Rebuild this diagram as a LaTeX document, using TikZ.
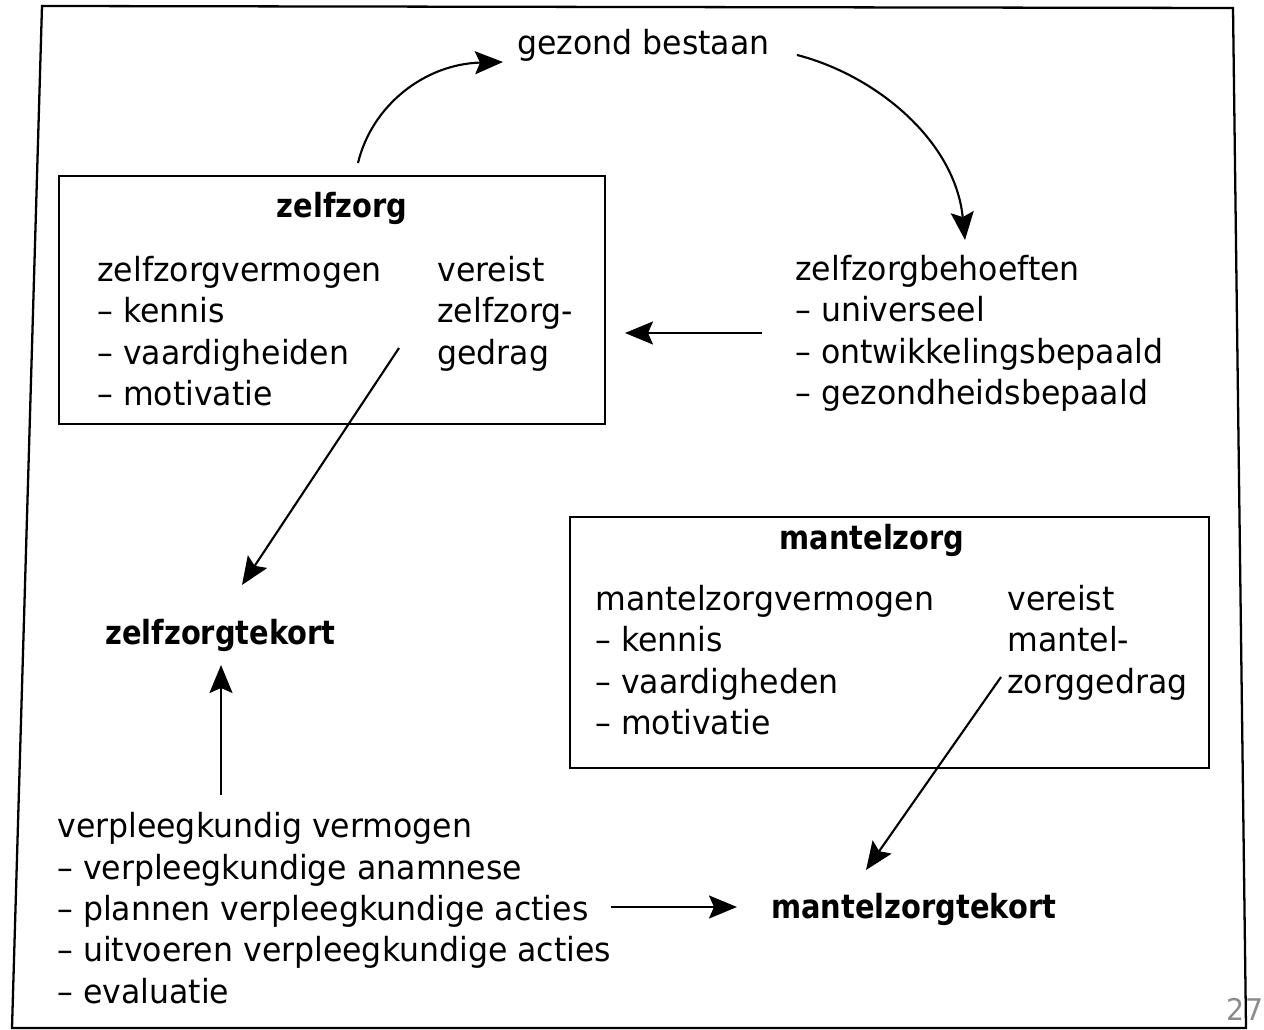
\documentclass[tikz,border=0pt]{standalone}
\usepackage{fontspec}
\setmainfont{DejaVu Sans}[FakeStretch=0.95]
\newfontfamily\bldfont{DejaVu Sans Bold}[FakeStretch=0.87]
\usetikzlibrary{arrows.meta}
\tikzset{
  txt/.style={inner sep=0pt, anchor=base west, align=left, font=\fontsize{18.9}{23.6}\selectfont},
  bld/.style={inner sep=0pt, font=\fontsize{18.9}{23.6}\selectfont\bldfont},
  boxed/.style={draw, line width=1.3pt, inner sep=0pt},
  arr/.style={line width=1.2pt, -{Stealth[length=0.56cm,width=0.46cm,inset=0.1cm]}},
}
\begin{document}
\begin{tikzpicture}[x=0.02cm,y=-0.02cm]
\useasboundingbox (0,0) rectangle (1264,1030);
\fill[white] (0,0) rectangle (1264,1030);
% outer frame
\draw[line width=1.3pt] (42,6) -- (1233,8) -- (1246,1028) -- (12,1028) -- cycle;
% boxes
\node[boxed, minimum width=10.92cm, minimum height=4.96cm] (zbox) at (332,300) {};
\node[boxed, minimum width=12.78cm, minimum height=5.02cm] (mbox) at (889.5,642.5) {};
% texts (base anchor = baseline of the last line)
\node[txt] (gezond) at (517,55) {gezond bestaan};
\node[bld, anchor=base] (zztitle) at (342,218) {zelfzorg};
\node[txt] (zzverm) at (97,405.8) {zelfzorgvermogen\\– kennis\\– vaardigheiden\\– motivatie};
\node[txt] (zzver) at (437,364.2) {vereist\\zelfzorg-\\gedrag};
\node[txt] (zzbeh) at (795,404.8) {zelfzorgbehoeften\\– universeel\\– ontwikkelingsbepaald\\– gezondheidsbepaald};
\node[bld, anchor=base west] (zztekort) at (105,644) {zelfzorgtekort};
\node[bld, anchor=base] (mztitle) at (872,549) {mantelzorg};
\node[txt] (mzverm) at (595,734.8) {mantelzorgvermogen\\– kennis\\– vaardigheden\\– motivatie};
\node[txt] (mzver) at (1007,693.2) {vereist\\mantel-\\zorggedrag};
\node[bld, anchor=base west] (mztekort) at (771,918) {mantelzorgtekort};
\node[txt] (vpl) at (57,1003.4) {verpleegkundig vermogen\\– verpleegkundige anamnese\\– plannen verpleegkundige acties\\– uitvoeren verpleegkundige acties\\– evaluatie};
\node[inner sep=0pt, text=black!45, font=\fontsize{17}{20}\selectfont] (page) at (1245,1009) {27};
% connector end points
\coordinate (a1s) at (358,163);
\coordinate (a1e) at (503,62);
\coordinate (a2s) at (797,55);
\coordinate (a2e) at (965,240);
\coordinate (a3s) at (762,333);
\coordinate (a3e) at (625,333);
\coordinate (a4s) at (399,348);
\coordinate (a4e) at (242,585);
\coordinate (a5s) at (221,795);
\coordinate (a5e) at (221,665);
\coordinate (a6s) at (1001,677);
\coordinate (a6e) at (866,870);
\coordinate (a7s) at (611,907);
\coordinate (a7e) at (737,907);
% connectors
\draw[arr] (a1s) .. controls (372,105) and (425,64) .. (a1e);
\draw[arr] (a2s) .. controls (875,75) and (955,140) .. (a2e);
\draw[arr] (a3s) -- (a3e);
\draw[arr] (a4s) -- (a4e);
\draw[arr] (a5s) -- (a5e);
\draw[arr] (a6s) -- (a6e);
\draw[arr] (a7s) -- (a7e);
\end{tikzpicture}
\end{document}
